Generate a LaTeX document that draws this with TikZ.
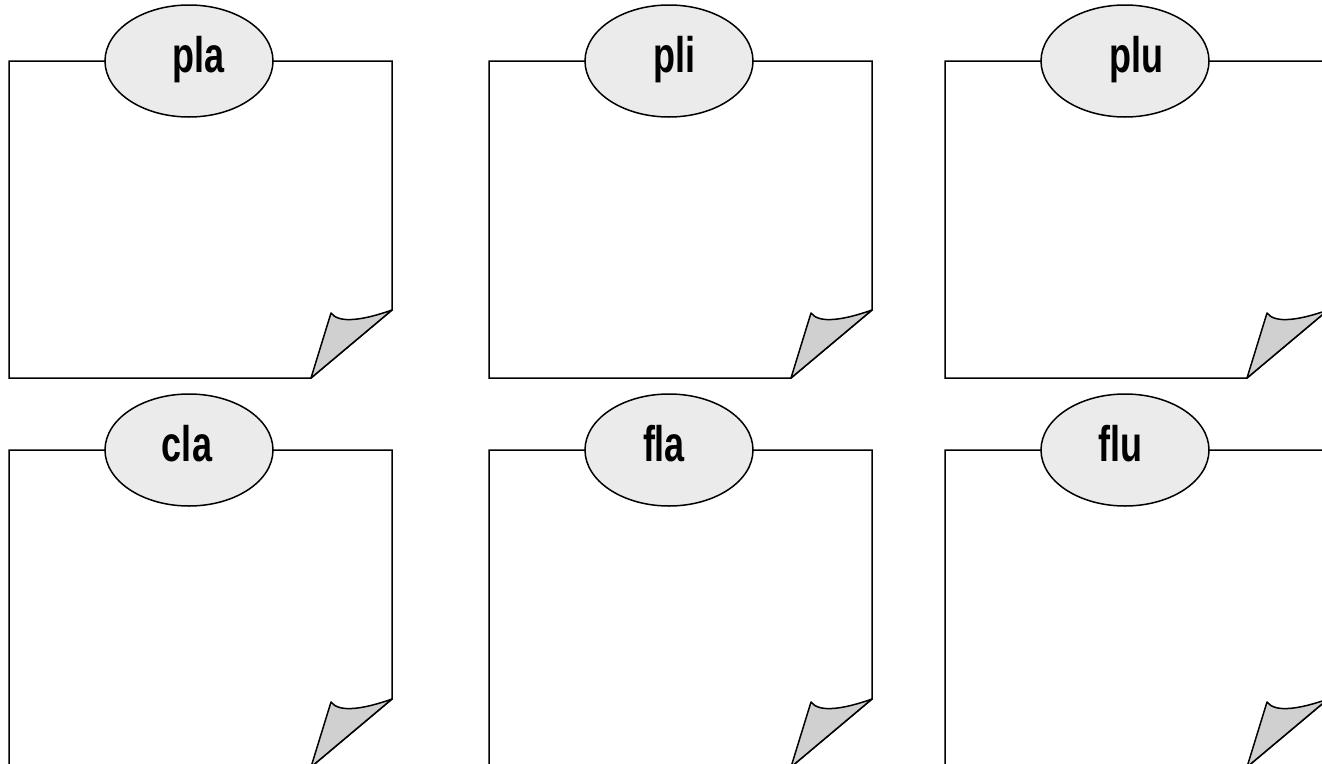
\documentclass[tikz,border=0pt]{standalone}
\usepackage{fontspec}
\setmainfont{Liberation Sans}
\usetikzlibrary{shapes.geometric}
\definecolor{taggrey}{HTML}{EBEBEB}
\definecolor{curlgrey}{HTML}{D0D0D0}
\tikzset{
  paper/.style={draw=black, line width=1.5pt, fill=white, line join=miter},
  curl/.style={draw=black, line width=1.5pt, fill=curlgrey, line join=round},
  tag/.style={ellipse, draw=black, line width=1.5pt, fill=taggrey,
    minimum width=168pt, minimum height=112pt, inner sep=0pt,
    text height=36pt, text depth=13pt,
    font=\fontsize{50}{50}\selectfont\bfseries}
}
% #1 x, #2 y (downwards), #3 label, #4 name, #5 leading space for label
\newcommand{\mynote}[5]{%
  \coordinate (#4-tl) at (#1,-#2);
  \coordinate (#4-tr) at (#1+383,-#2);
  \coordinate (#4-rc) at (#1+383,-#2-249);
  \coordinate (#4-bc) at (#1+302,-#2-317);
  \coordinate (#4-bl) at (#1,-#2-317);
  \coordinate (#4-tip) at (#1+322,-#2-252);
  \draw[paper] (#4-tl) -- (#4-tr) -- (#4-rc) -- (#4-bc) -- (#4-bl) -- cycle;
  \draw[curl] (#4-rc) .. controls (#1+355,-#2-259) and (#1+330,-#2-263) .. (#4-tip) -- (#4-bc) -- cycle;
  \node[tag] (#4) at (#1+180,-#2) {\hspace*{#5pt}\scalebox{0.72}[1]{#3}};
}
\begin{document}
\begin{tikzpicture}[x=1pt,y=1pt]
\useasboundingbox (0,0) rectangle (1322,-763);
\clip (0,0) rectangle (1322,-763);
\mynote{9}{61}{pla}{pla}{20}
\mynote{489}{61}{pli}{pli}{10}
\mynote{945}{61}{plu}{plu}{22}
\mynote{9}{450}{cla}{cla}{-4}
\mynote{489}{450}{fla}{fla}{-10}
\mynote{945}{450}{flu}{flu}{-10}
\end{tikzpicture}
\end{document}
